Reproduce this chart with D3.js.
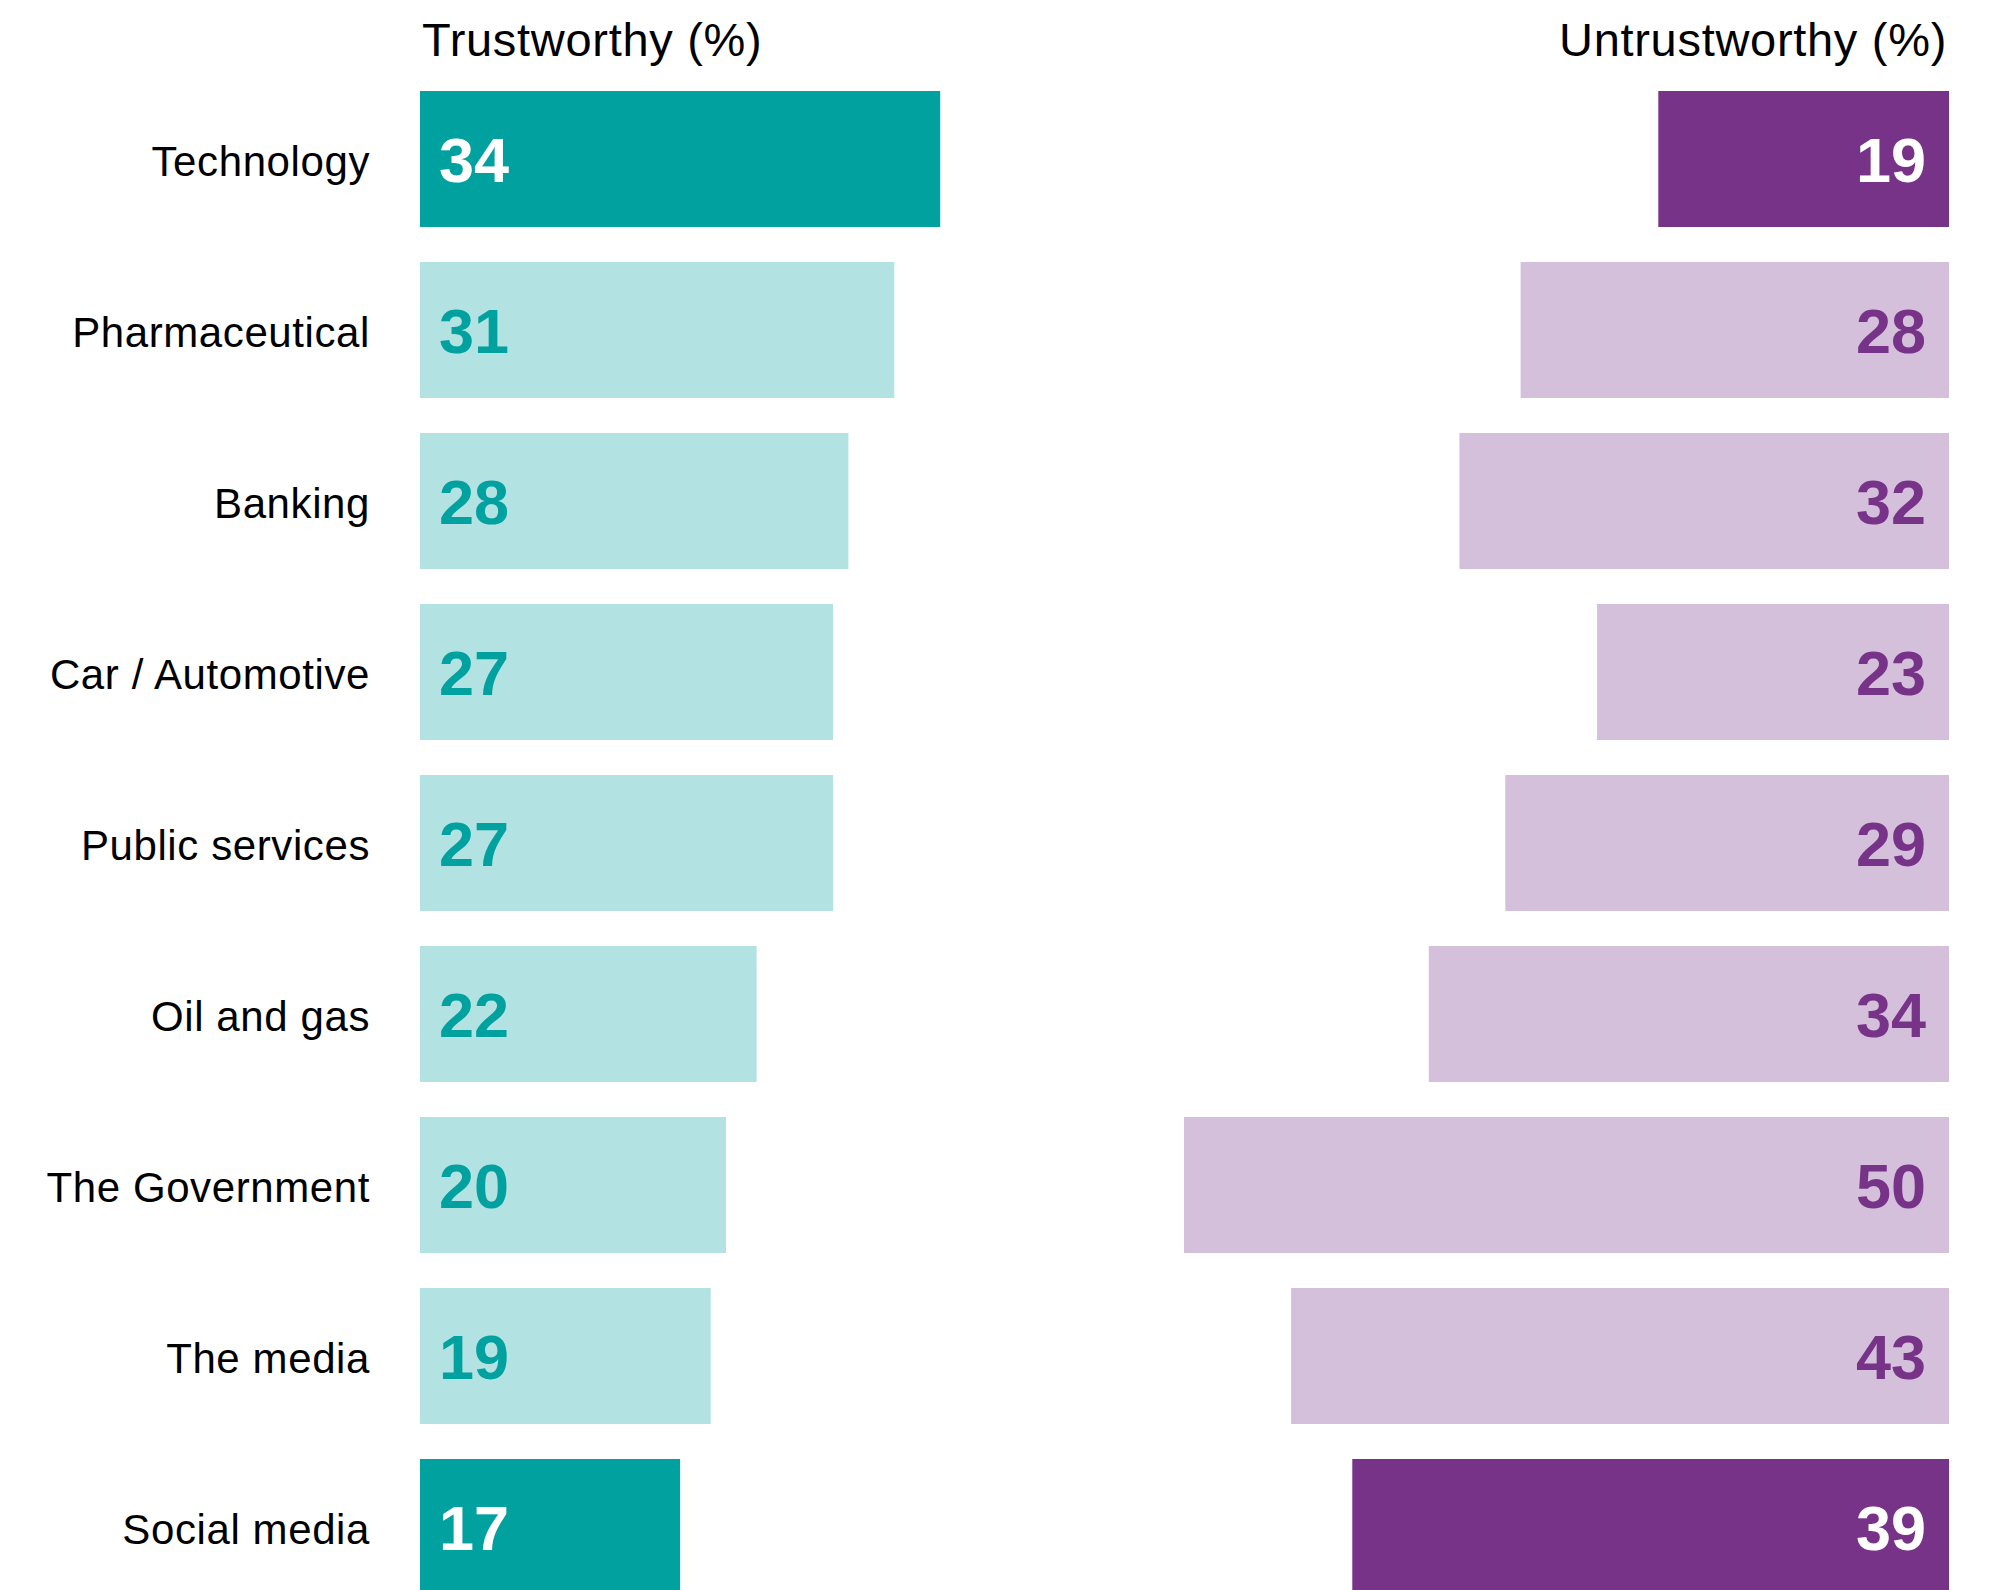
<!DOCTYPE html>
<html>
<head>
<meta charset="utf-8">
<script src="https://cdn.jsdelivr.net/npm/d3@7"></script>
<style>
  html, body { margin: 0; padding: 0; background: #ffffff; }
  svg { display: block; }
  text { font-family: "Liberation Sans", Arial, Helvetica, sans-serif; }
</style>
</head>
<body>
<script>
// Sector trust survey: share saying each sector is trustworthy / untrustworthy
const categories = ["Technology", "Pharmaceutical", "Banking", "Car / Automotive",
  "Public services", "Oil and gas", "The Government", "The media", "Social media"];
const trustworthy = [34, 31, 28, 27, 27, 22, 20, 19, 17];
const untrustworthy = [19, 28, 32, 23, 29, 34, 50, 43, 39];
const highlighted = ["Technology", "Social media"];
const headers = ["Trustworthy (%)", "Untrustworthy (%)"];

const W = 1994, H = 1590;
const leftX = 420, rightX = 1949;

const colors = {
  trustDark: "#00a19f", trustLight: "#b2e2e1",
  untrustDark: "#773388", untrustLight: "#d5c0db"
};

const svg = d3.select("body").append("svg")
  .attr("width", W).attr("height", H);

const y = d3.scaleBand()
  .domain(categories)
  .range([91, 91 + categories.length * 171 - 35])
  .paddingInner(35 / 171)
  .paddingOuter(0);

// one shared percentage scale for both sides
const x = d3.scaleLinear().domain([0, 50]).range([0, 765]);

const rows = categories.map((c, i) => ({
  cat: c, t: trustworthy[i], u: untrustworthy[i], hi: highlighted.includes(c)
}));

// column headers
svg.append("text").attr("x", leftX + 2).attr("y", 56)
  .attr("font-size", 47).attr("letter-spacing", 0.7)
  .attr("fill", "#000").text(headers[0]);
svg.append("text").attr("x", rightX - 2).attr("y", 56)
  .attr("text-anchor", "end")
  .attr("font-size", 47).attr("letter-spacing", 0.7)
  .attr("fill", "#000").text(headers[1]);

const g = svg.selectAll("g.row").data(rows).join("g").attr("class", "row");

// category labels
g.append("text")
  .attr("x", 370)
  .attr("y", d => y(d.cat) + y.bandwidth() / 2 + 17)
  .attr("text-anchor", "end")
  .attr("font-size", 42)
  .attr("letter-spacing", 0.6)
  .attr("fill", "#000")
  .text(d => d.cat);

// trustworthy bars
g.append("rect")
  .attr("x", leftX)
  .attr("y", d => y(d.cat))
  .attr("width", d => x(d.t))
  .attr("height", y.bandwidth())
  .attr("fill", d => d.hi ? colors.trustDark : colors.trustLight);

g.append("text")
  .attr("x", leftX + 19)
  .attr("y", d => y(d.cat) + y.bandwidth() / 2 + 23)
  .attr("font-size", 63)
  .attr("font-weight", "bold")
  .attr("fill", d => d.hi ? "#ffffff" : colors.trustDark)
  .text(d => d.t);

// untrustworthy bars, anchored to the right edge
g.append("rect")
  .attr("x", d => rightX - x(d.u))
  .attr("y", d => y(d.cat))
  .attr("width", d => x(d.u))
  .attr("height", y.bandwidth())
  .attr("fill", d => d.hi ? colors.untrustDark : colors.untrustLight);

g.append("text")
  .attr("x", rightX - 23)
  .attr("y", d => y(d.cat) + y.bandwidth() / 2 + 23)
  .attr("text-anchor", "end")
  .attr("font-size", 63)
  .attr("font-weight", "bold")
  .attr("fill", d => d.hi ? "#ffffff" : colors.untrustDark)
  .text(d => d.u);
</script>
</body>
</html>
